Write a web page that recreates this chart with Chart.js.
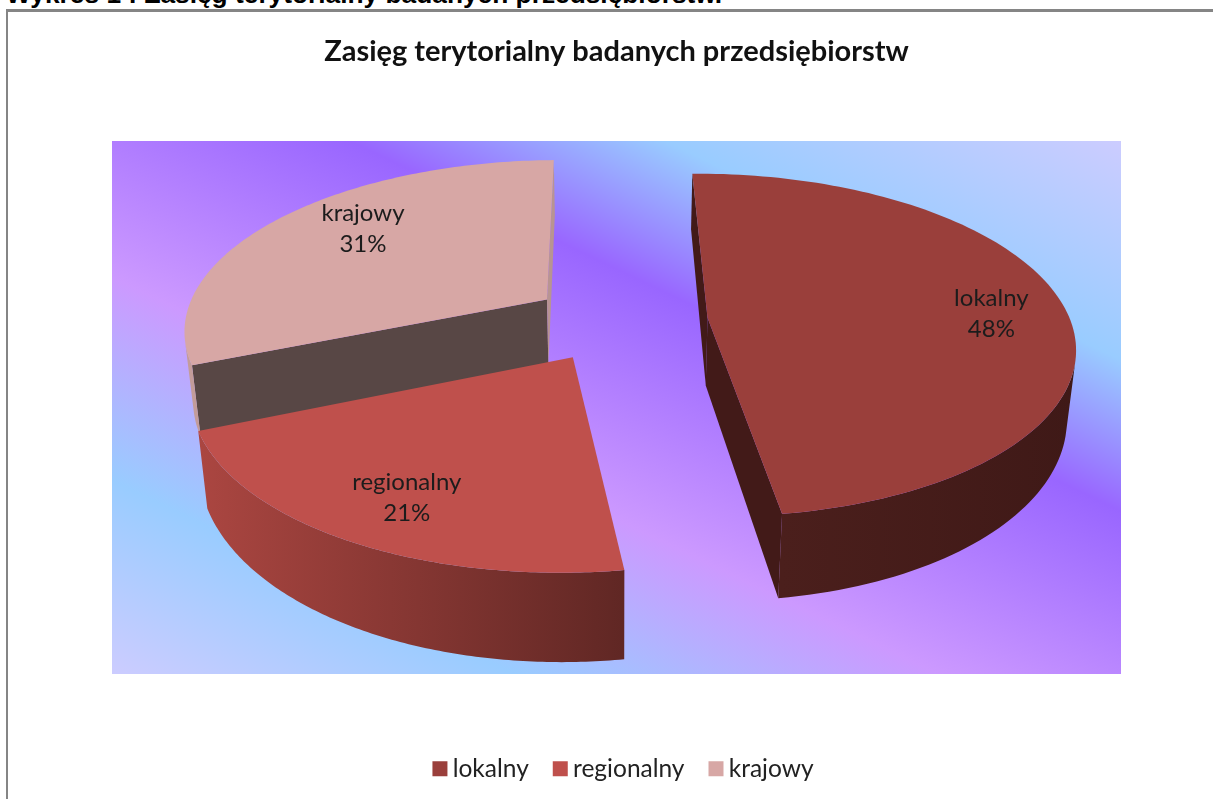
<!DOCTYPE html>
<html><head><meta charset="utf-8">
<style>
html,body{margin:0;padding:0;background:#fff;overflow:hidden;width:1213px;height:799px}
#cap{position:absolute;left:6px;top:-21px;font:bold 26.3px "Liberation Sans",Arial,sans-serif;color:#000;white-space:nowrap}
#frame{position:absolute;left:6px;top:9px;width:1300px;height:900px;border:solid #858585;border-width:3px 0 0 2px;box-sizing:border-box}
#wrap{position:absolute;left:0;top:0;width:1213px;height:799px}
</style>
<script src="https://cdn.jsdelivr.net/npm/chart.js@4"></script>
</head><body>
<div id="frame"></div>
<div id="cap">Wykres 1 : Zasięg terytorialny badanych przedsiębiorstw.</div>
<div id="wrap"><canvas id="c" width="1213" height="799"></canvas></div>
<script>
const categories = ['lokalny', 'regionalny', 'krajowy'];
const shares = [48, 21, 31];
const topColors = ['#9a3f3b', '#bf504c', '#d7a7a5'];
const chartTitle = 'Zasięg terytorialny badanych przedsiębiorstw';

// view of the tilted pie
const VIEW = {cx: 618, cy: 321, rx: 363, ry: 168, persp: 0.16, depth: 68, depthGrow: 0.05, depthX: 0.02, skew: -3};
const RADIUS = 250;
const OFFSETS = [62, 60, 60];
const PAINT_ORDER = [0, 2, 1];
const rimStops = [['#4b1f1c', '#3f1917'], ['#ab4641', '#602724'], ['#c39c9a', '#c39c9a']];
const cutColors = ['#421a18', '#7a3230', '#584745'];
const labelReach = [0.78, 0.8, 0.66];
const labelNudge = [[6, 6], [10, -1], [-3, -16]];
const PLOT = {x: 112, y: 141, w: 1009, h: 533};

function project(u, v, z) {
  const w = 1 - VIEW.persp * v;
  return [
    VIEW.cx + (VIEW.rx * u + VIEW.skew * v) / (w + VIEW.depthX * z),
    VIEW.cy + (VIEW.ry * v + VIEW.depth * (1 + VIEW.depthGrow * v) * z) / w
  ];
}
function polyArea(pts) {
  let a = 0;
  for (let i = 0; i < pts.length; i++) {
    const p = pts[i], q = pts[(i + 1) % pts.length];
    a += p[0] * q[1] - q[0] * p[1];
  }
  return a / 2;
}
function fillPoly(ctx, pts, color) {
  ctx.beginPath();
  pts.forEach((p, i) => i ? ctx.lineTo(p[0], p[1]) : ctx.moveTo(p[0], p[1]));
  ctx.closePath();
  ctx.fillStyle = color;
  ctx.fill();
}
function sliceGeom(el) {
  const mid = (el.startAngle + el.endAngle) / 2;
  const E = (el.options.offset || 0) / el.outerRadius;
  return {ox: E * Math.cos(mid), oy: E * Math.sin(mid), mid};
}
function arcPlane(el, g, n) {
  const out = [];
  for (let i = 0; i <= n; i++) {
    const a = el.startAngle + (el.endAngle - el.startAngle) * i / n;
    out.push([g.ox + Math.cos(a), g.oy + Math.sin(a)]);
  }
  return out;
}
function drawSlice(ctx, el, idx) {
  const g = sliceGeom(el);
  const n = 120;
  const arc = arcPlane(el, g, n);
  const top = arc.map(p => project(p[0], p[1], 0));
  const apexT = project(g.ox, g.oy, 0), apexB = project(g.ox, g.oy, 1);
  // radial cut faces
  [[0, 1], [n, -1]].forEach(([k, dir]) => {
    const p = arc[k];
    const a = project(p[0], p[1], 0), b = project(p[0], p[1], 1);
    const face = [apexT, a, b, apexB];
    if (polyArea(face) * dir < 0) fillPoly(ctx, face, k === n && idx === 2 ? '#b89492' : cutColors[idx]);
  });
  // visible part of the outer rim, shaded across the screen
  const upper = [], lower = [];
  for (let i = 0; i < n; i++) {
    const p = arc[i], q = arc[i + 1];
    const s = [project(p[0], p[1], 0), project(q[0], q[1], 0), project(q[0], q[1], 1), project(p[0], p[1], 1)];
    if (polyArea(s) > 0) continue;
    if (!upper.length) { upper.push(s[0]); lower.push(s[3]); }
    upper.push(s[1]); lower.push(s[2]);
  }
  if (upper.length) {
    const xs = upper.map(p => p[0]);
    const gr = ctx.createLinearGradient(Math.min(...xs), 0, Math.max(...xs), 0);
    gr.addColorStop(0, rimStops[idx][0]);
    gr.addColorStop(1, rimStops[idx][1]);
    fillPoly(ctx, upper.concat(lower.reverse()), gr);
  }
  // top face
  fillPoly(ctx, [apexT].concat(top), el.options.backgroundColor);
}

const pie3d = {
  id: 'pie3d',
  afterLayout(chart) {
    chart.legend.left += 10;
    chart.legend.right += 10;
  },
  beforeDraw(chart) {
    const c = chart.ctx, P = PLOT;
    const gr = c.createLinearGradient(P.x, P.y + P.h, P.x + 397, P.y + P.h - 827);
    [[0, '#ccccff'], [0.19, '#99ccff'], [0.39, '#cc99ff'], [0.636, '#9966ff'], [0.785, '#99ccff'], [1, '#ccccff']]
      .forEach(s => gr.addColorStop(s[0], s[1]));
    c.save(); c.fillStyle = gr; c.fillRect(P.x, P.y, P.w, P.h); c.restore();
  },
  beforeDatasetDraw(chart) {
    const c = chart.ctx, meta = chart.getDatasetMeta(0);
    c.save();
    PAINT_ORDER.forEach(i => drawSlice(c, meta.data[i], i));
    c.restore();
    return false;
  },
  afterDatasetsDraw(chart) {
    const c = chart.ctx, meta = chart.getDatasetMeta(0);
    c.save();
    c.font = '24px Lato';
    c.fillStyle = '#1c1c1c';
    c.textAlign = 'center';
    c.textBaseline = 'middle';
    meta.data.forEach((el, i) => {
      const g = sliceGeom(el), r = labelReach[i];
      const p = project(g.ox + r * Math.cos(g.mid), g.oy + r * Math.sin(g.mid), 0);
      const x = p[0] + labelNudge[i][0], y = p[1] + labelNudge[i][1];
      c.fillText(categories[i], x, y - 15);
      c.fillText(shares[i] + '%', x, y + 16);
    });
    c.restore();
  }
};

new Chart(document.getElementById('c'), {
  type: 'pie',
  data: {labels: categories, datasets: [{data: shares, backgroundColor: topColors, borderWidth: 0, offset: OFFSETS}]},
  plugins: [pie3d],
  options: {
    responsive: false,
    animation: false,
    rotation: -1,
    radius: RADIUS,
    layout: {padding: {left: 20, right: 0, top: 34, bottom: 8}},
    plugins: {
      tooltip: {enabled: false},
      title: {display: true, text: chartTitle, color: '#111', font: {family: 'Lato', size: 29, weight: 'bold'}, padding: {top: 0, bottom: 10}},
      legend: {position: 'bottom', labels: {color: '#222', font: {family: 'Lato', size: 24.5}, usePointStyle: true, pointStyle: 'rect', boxWidth: 1, boxHeight: 15, padding: 31}}
    }
  }
});
</script>
</body></html>
